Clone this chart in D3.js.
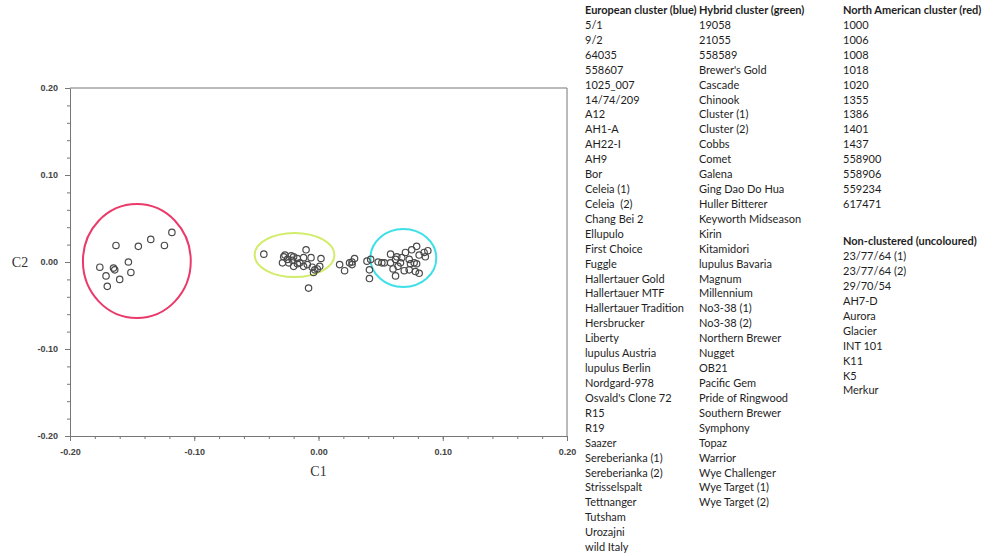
<!DOCTYPE html>
<html>
<head>
<meta charset="utf-8">
<title>C1 / C2</title>
<script src="https://cdnjs.cloudflare.com/ajax/libs/d3/7.8.5/d3.min.js"></script>
<style>
  body { margin: 0; background: #fff; }
  .tick text { font-family: "Liberation Sans", Arial, sans-serif; font-weight: bold; font-size: 9px; fill: #444; }
  .legend text { font-family: Lato, "Open Sans", sans-serif; font-size: 11px; fill: #1e1e1e; white-space: pre; }
</style>
</head>
<body>
<script>
// points (C1, C2)
var redC1 = [-0.176, -0.165, -0.164, -0.171, -0.160, -0.170, -0.153, -0.151, -0.163, -0.145, -0.135, -0.124, -0.118];
var redC2 = [-0.006, -0.007, -0.009, -0.016, -0.020, -0.028, 0.000, -0.012, 0.019, 0.018, 0.026, 0.019, 0.034];

var greenC1 = [-0.044, -0.028, -0.025, -0.022, -0.021, -0.029, -0.024, -0.020, -0.017, -0.010, -0.012, -0.006, -0.012,
               -0.009, 0.002, 0.001, -0.003, -0.001, -0.004, -0.008, -0.017, -0.027, -0.020, -0.015, -0.005];
var greenC2 = [0.009, 0.006, 0.003, 0.007, 0.002, -0.001, -0.001, -0.005, -0.002, 0.014, 0.005, 0.005, -0.005,
               -0.003, 0.004, -0.005, -0.009, -0.008, -0.012, -0.030, 0.004, 0.008, 0.006, -0.001, -0.006];

var midC1 = [0.017, 0.021, 0.025, 0.027, 0.029, 0.027, 0.039, 0.042, 0.041, 0.041];
var midC2 = [-0.003, -0.010, -0.001, 0.000, 0.004, -0.003, 0.001, 0.003, -0.009, -0.019];

var cyanC1 = [0.048, 0.051, 0.053, 0.058, 0.058, 0.060, 0.062, 0.063, 0.066, 0.067, 0.069, 0.070, 0.073, 0.074,
              0.075, 0.077, 0.073, 0.079, 0.081, 0.079, 0.085, 0.088, 0.086, 0.078, 0.081, 0.064, 0.062];
var cyanC2 = [0.000, -0.001, -0.001, 0.009, -0.001, -0.008, -0.016, 0.006, -0.001, 0.005, -0.010, 0.011, 0.003, -0.002,
              0.014, -0.001, -0.009, 0.018, 0.008, -0.002, 0.011, 0.013, 0.006, -0.011, -0.013, -0.005, 0.003];

// cluster rings: centre and half-axes in C1/C2 units
var ringCx = [-0.1462, -0.0193, 0.0683];
var ringCy = [0.0011, 0.0080, 0.0046];
var ringRx = [0.0434, 0.0321, 0.0265];
var ringRy = [0.0655, 0.0253, 0.0333];
var ringColor = ["#ea3a6a", "#d2ec6c", "#3ee0e8"];

var ticks = [-0.20, -0.10, 0.00, 0.10, 0.20];

var euroNames = ["5/1", "9/2", "64035", "558607", "1025_007", "14/74/209", "A12", "AH1-A", "AH22-I", "AH9", "Bor",
  "Celeia (1)", "Celeia  (2)", "Chang Bei 2", "Ellupulo", "First Choice", "Fuggle", "Hallertauer Gold",
  "Hallertauer MTF", "Hallertauer Tradition", "Hersbrucker", "Liberty", "lupulus Austria", "lupulus Berlin",
  "Nordgard-978", "Osvald's Clone 72", "R15", "R19", "Saazer", "Sereberianka (1)", "Sereberianka (2)",
  "Strisselspalt", "Tettnanger", "Tutsham", "Urozajni", "wild Italy"];
var hybridNames = ["19058", "21055", "558589", "Brewer's Gold", "Cascade", "Chinook", "Cluster (1)", "Cluster (2)",
  "Cobbs", "Comet", "Galena", "Ging Dao Do Hua", "Huller Bitterer", "Keyworth Midseason", "Kirin", "Kitamidori",
  "lupulus Bavaria", "Magnum", "Millennium", "No3-38 (1)", "No3-38 (2)", "Northern Brewer", "Nugget", "OB21",
  "Pacific Gem", "Pride of Ringwood", "Southern Brewer", "Symphony", "Topaz", "Warrior", "Wye Challenger",
  "Wye Target (1)", "Wye Target (2)"];
var naNames = ["1000", "1006", "1008", "1018", "1020", "1355", "1386", "1401", "1437", "558900", "558906", "559234", "617471"];
var nonNames = ["23/77/64 (1)", "23/77/64 (2)", "29/70/54", "AH7-D", "Aurora", "Glacier", "INT 101", "K11", "K5", "Merkur"];

var W = 1000, H = 556;
var pL = 70, pR = 567, pT = 88, pB = 436;

var svg = d3.select("body").append("svg").attr("width", W).attr("height", H);

var x = d3.scaleLinear().domain([-0.2, 0.2]).range([pL, pR]);
var y = d3.scaleLinear().domain([-0.2, 0.2]).range([pB, pT]);

// frame (top and right)
svg.append("path")
  .attr("d", "M" + pL + "," + pT + "H" + pR + "V" + pB)
  .attr("fill", "none").attr("stroke", "#777").attr("stroke-width", 1);

var minor = d3.range(-0.2, 0.2001, 0.02);
var fmt = function (d) { return d3.format(".2f")(d).replace("\u2212", "-"); };

// minor ticks first, then the labelled axes
svg.append("g").attr("transform", "translate(0," + pB + ")")
  .call(d3.axisBottom(x).tickValues(minor).tickSize(3).tickFormat(""))
  .call(function (g) { g.select(".domain").remove(); g.selectAll("line").attr("stroke", "#777"); });
svg.append("g").attr("transform", "translate(" + pL + ",0)")
  .call(d3.axisLeft(y).tickValues(minor).tickSize(3).tickFormat(""))
  .call(function (g) { g.select(".domain").remove(); g.selectAll("line").attr("stroke", "#777"); });

svg.append("g").attr("transform", "translate(0," + pB + ")")
  .call(d3.axisBottom(x).tickValues(ticks).tickSize(5).tickSizeOuter(0).tickPadding(8).tickFormat(fmt))
  .call(function (g) { g.select(".domain").attr("stroke", "#777"); g.selectAll("line").attr("stroke", "#777"); });
svg.append("g").attr("transform", "translate(" + pL + ",0)")
  .call(d3.axisLeft(y).tickValues(ticks).tickSize(5).tickSizeOuter(0).tickPadding(7).tickFormat(fmt))
  .call(function (g) { g.select(".domain").attr("stroke", "#777"); g.selectAll("line").attr("stroke", "#777"); });

svg.append("text").attr("x", x(0)).attr("y", 476).attr("text-anchor", "middle")
  .attr("font-family", "Liberation Serif, Times New Roman, serif").attr("font-size", 14).attr("fill", "#333").text("C1");
svg.append("text").attr("x", 20).attr("y", y(0) + 5).attr("text-anchor", "middle")
  .attr("font-family", "Liberation Serif, Times New Roman, serif").attr("font-size", 14).attr("fill", "#333").text("C2");

// rings
svg.append("g").selectAll("ellipse").data(ringCx).enter().append("ellipse")
  .attr("cx", function (d, i) { return x(d); })
  .attr("cy", function (d, i) { return y(ringCy[i]); })
  .attr("rx", function (d, i) { return x(ringRx[i]) - x(0); })
  .attr("ry", function (d, i) { return y(0) - y(ringRy[i]); })
  .attr("fill", "none")
  .attr("stroke", function (d, i) { return ringColor[i]; })
  .attr("stroke-width", 2);

// points
var allC1 = redC1.concat(greenC1, midC1, cyanC1);
var allC2 = redC2.concat(greenC2, midC2, cyanC2);
svg.append("g").selectAll("circle").data(allC1).enter().append("circle")
  .attr("cx", function (d) { return x(d); })
  .attr("cy", function (d, i) { return y(allC2[i]); })
  .attr("r", 3.2)
  .attr("fill", "none")
  .attr("stroke", "#4a4a4a")
  .attr("stroke-width", 1.2);

// name columns
var rowH = 14.92, firstY = 14;
function column(cx, startRow, title, names) {
  var g = svg.append("g").attr("class", "legend");
  g.append("text").attr("x", cx).attr("y", firstY + startRow * rowH).attr("font-weight", "bold").text(title);
  g.selectAll("text.n").data(names).enter().append("text").attr("class", "n")
    .attr("x", cx)
    .attr("y", function (d, i) { return firstY + (startRow + i + 1) * rowH; })
    .text(function (d) { return d; });
}
column(585, 0, "European cluster (blue)", euroNames);
column(699, 0, "Hybrid cluster (green)", hybridNames);
column(843, 0, "North American cluster (red)", naNames);
column(843, 15.5, "Non-clustered (uncoloured)", nonNames);
</script>
</body>
</html>
